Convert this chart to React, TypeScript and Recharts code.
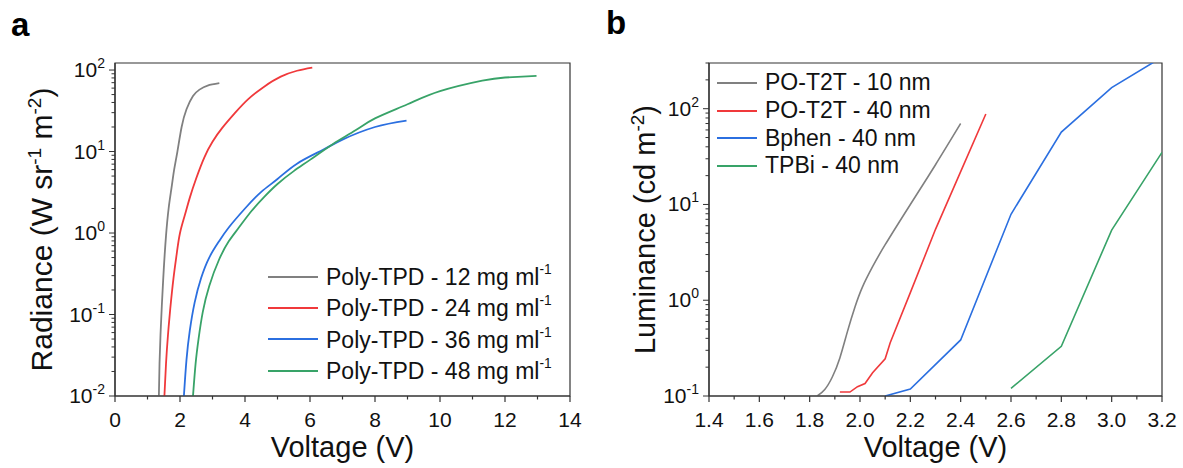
import React from 'react';
import { LineChart, Line, XAxis, YAxis, ReferenceArea, Label } from 'recharts';

const FONT = '"Liberation Sans", Arial, Helvetica, sans-serif';
const AXIS = '#333333';
const INK = '#111111';

// ---- panel a: radiance vs voltage ----
const radianceNames = ['Poly-TPD - 12 mg ml', 'Poly-TPD - 24 mg ml', 'Poly-TPD - 36 mg ml', 'Poly-TPD - 48 mg ml'];
const radianceColors = ['#808080', '#f0393b', '#2b6fe0', '#38a368'];

const tpd12Volt = [1.35, 1.37, 1.4, 1.44, 1.5, 1.57, 1.65, 1.74, 1.82, 1.92, 2.05, 2.2, 2.4, 2.6, 2.85, 3.21];
const tpd12Rad = [0.01, 0.025, 0.056, 0.126, 0.355, 0.93, 2.0, 3.6, 6.0, 10, 20, 33, 48, 57.5, 64.5, 69];

const tpd24Volt = [1.52, 1.57, 1.63, 1.7, 1.8, 1.9, 2.0, 2.15, 2.3, 2.5, 2.75, 3.0, 3.3, 3.7, 4.1, 4.6, 5.1, 5.6, 6.07];
const tpd24Rad = [0.01, 0.025, 0.056, 0.117, 0.28, 0.56, 1.0, 1.66, 2.7, 4.7, 8.5, 13.2, 19.5, 30, 44, 63, 83, 98, 107];

const tpd36Volt = [2.12, 2.2, 2.3, 2.45, 2.65, 2.9, 3.2, 3.5, 4.0, 4.5, 5.0, 5.6, 6.4, 7.0, 8.0, 8.97];
const tpd36Rad = [0.01, 0.028, 0.063, 0.14, 0.28, 0.5, 0.79, 1.17, 2.0, 3.2, 4.6, 7.1, 10.5, 14.0, 20, 24];

const tpd48Volt = [2.4, 2.48, 2.57, 2.7, 2.9, 3.2, 3.5, 3.8, 4.2, 4.6, 5.0, 5.5, 6.0, 6.7, 7.4, 8.0, 9.0, 10.0, 11.3, 12.0, 12.97];
const tpd48Rad = [0.01, 0.025, 0.05, 0.107, 0.224, 0.47, 0.79, 1.15, 1.86, 2.8, 4.0, 5.75, 7.9, 12.3, 18.2, 25.5, 38, 55, 74, 81, 85];

const voltageTicksA = [0, 2, 4, 6, 8, 10, 12, 14];
const radianceTicks = [0.01, 0.1, 1, 10, 100];

// ---- panel b: luminance vs voltage ----
const luminanceNames = ['PO-T2T - 10 nm', 'PO-T2T - 40 nm', 'Bphen - 40 nm', 'TPBi - 40 nm'];
const luminanceColors = ['#808080', '#f0393b', '#2b6fe0', '#38a368'];

const t2t10Volt = [1.83, 1.86, 1.89, 1.92, 1.95, 1.98, 2.01, 2.05, 2.1, 2.2, 2.3, 2.4];
const t2t10Lum = [0.1, 0.117, 0.158, 0.25, 0.47, 0.85, 1.38, 2.24, 3.8, 10, 26, 70];

const t2t40Volt = [1.92, 1.96, 1.99, 2.02, 2.05, 2.1, 2.12, 2.2, 2.3, 2.4, 2.5];
const t2t40Lum = [0.11, 0.11, 0.125, 0.135, 0.175, 0.245, 0.36, 1.2, 5.5, 22, 88];

const bphenVolt = [2.1, 2.2, 2.4, 2.6, 2.8, 3.0, 3.2];
const bphenLum = [0.1, 0.118, 0.385, 7.9, 57, 166, 345];

const tpbiVolt = [2.6, 2.8, 3.0, 3.2];
const tpbiLum = [0.12, 0.33, 5.4, 35];

const voltageTicksB = [1.4, 1.6, 1.8, 2.0, 2.2, 2.4, 2.6, 2.8, 3.0, 3.2];
const luminanceTicks = [0.1, 1, 10, 100];

const pairs = (xs: number[], ys: number[]) => xs.map((x, i) => ({ x, y: ys[i] }));

const radianceSeries = [
  pairs(tpd12Volt, tpd12Rad),
  pairs(tpd24Volt, tpd24Rad),
  pairs(tpd36Volt, tpd36Rad),
  pairs(tpd48Volt, tpd48Rad),
];
const luminanceSeries = [
  pairs(t2t10Volt, t2t10Lum),
  pairs(t2t40Volt, t2t40Lum),
  pairs(bphenVolt, bphenLum),
  pairs(tpbiVolt, tpbiLum),
];

// minor ticks: halfway between linear majors, 2..9 inside each log decade
const linearMinors = (majors: number[]) => {
  const out: number[] = [];
  for (let i = 0; i < majors.length - 1; i++) out.push(+((majors[i] + majors[i + 1]) / 2).toFixed(3));
  return out;
};
const logMinors = (lo: number, hi: number) => {
  const out: number[] = [];
  for (let d = lo; d < hi; d *= 10) {
    for (let k = 2; k <= 9; k++) {
      const v = +(d * k).toPrecision(3);
      if (v <= hi) out.push(v);
    }
  }
  return out;
};

const near = (list: number[], v: number) => list.some((m) => Math.abs(m - v) < 1e-6 * Math.max(1, Math.abs(m)));

function XTick(props: any) {
  const { x, y, payload, majors, decimals } = props;
  const major = near(majors, payload.value);
  return (
    <g>
      <line x1={x} x2={x} y1={y} y2={y + (major ? 6 : 3.5)} stroke={AXIS} strokeWidth={1.2} />
      {major && (
        <text x={x} y={y + 31} textAnchor="middle" fontSize={21} fontFamily={FONT} fill={INK}>
          {Number(payload.value).toFixed(decimals)}
        </text>
      )}
    </g>
  );
}

function YTick(props: any) {
  const { x, y, payload, majors } = props;
  const v = payload.value;
  const major = near(majors, v);
  const exp = Math.round(Math.log10(v));
  return (
    <g>
      <line x1={x - (major ? 6 : 3.5)} x2={x} y1={y} y2={y} stroke={AXIS} strokeWidth={1} />
      {major && (
        <text x={x - 10} y={y + 7} textAnchor="end" fontSize={21} fontFamily={FONT} fill={INK}>
          10
          <tspan dy={-9} fontSize={14}>{exp}</tspan>
        </text>
      )}
    </g>
  );
}

function XTitle(props: any) {
  const { viewBox } = props;
  return (
    <text x={viewBox.x + viewBox.width / 2} y={viewBox.y + 61} textAnchor="middle" fontSize={29} fontFamily={FONT} fill={INK}>
      Voltage (V)
    </text>
  );
}

function YTitle(props: any) {
  const { viewBox, baseX, main, unit1, exp1, unit2, exp2, size } = props;
  const cx = viewBox.x + baseX;
  const cy = viewBox.y + viewBox.height / 2;
  const sup = Math.round(size * 0.64);
  const lift = Math.round(size * 0.38);
  return (
    <text x={cx} y={cy} transform={`rotate(-90 ${cx} ${cy})`} textAnchor="middle" fontSize={size} fontFamily={FONT} fill={INK}>
      {main}
      {unit1}
      {exp1 && <tspan dy={-lift} fontSize={sup}>{exp1}</tspan>}
      {exp1 && <tspan dy={lift}>{' '}</tspan>}
      {unit2}
      <tspan dy={-lift} fontSize={sup}>{exp2}</tspan>
      <tspan dy={lift}>)</tspan>
    </text>
  );
}

function LegendBox(props: { names: string[]; colors: string[]; left: number; top: number; row: number; line: number; sup?: string }) {
  const { names, colors, left, top, row, line, sup } = props;
  return (
    <div style={{ position: 'absolute', left, top, fontFamily: FONT, fontSize: 23, color: INK }}>
      {names.map((n, i) => (
        <div key={n} style={{ display: 'flex', alignItems: 'center', height: row, whiteSpace: 'nowrap' }}>
          <svg width={line} height={4} style={{ marginRight: 8 }}>
            <line x1={0} x2={line} y1={2} y2={2} stroke={colors[i]} strokeWidth={2} />
          </svg>
          <span>
            {n}
            {sup && <span style={{ fontSize: '0.6em', verticalAlign: '0.8em' }}>{sup}</span>}
          </span>
        </div>
      ))}
    </div>
  );
}

export default function App() {
  const xMinorA = linearMinors(voltageTicksA);
  const yMinorA = logMinors(0.01, 100);
  const xMinorB = linearMinors(voltageTicksB);
  const yMinorB = logMinors(0.1, 300);

  return (
    <div style={{ position: 'absolute', left: 0, top: 0, width: 1183, height: 468, background: '#fff', fontFamily: FONT }}>
      <div style={{ position: 'absolute', left: 11, top: 6, fontSize: 33, fontWeight: 'bold' }}>a</div>
      <div style={{ position: 'absolute', left: 606, top: 4, fontSize: 33, fontWeight: 'bold' }}>b</div>

      <div style={{ position: 'absolute', left: 0, top: 0 }}>
        <LineChart width={600} height={468} margin={{ top: 63, right: 30, bottom: 0, left: 0 }}>
          <XAxis
            dataKey="x"
            type="number"
            domain={[0, 14]}
            allowDataOverflow
            ticks={[...voltageTicksA, ...xMinorA].sort((a, b) => a - b)}
            interval={0}
            height={72}
            tickSize={0}
            tickMargin={0}
            tickLine={false}
            axisLine={{ stroke: AXIS, strokeWidth: 1.2 }}
            tick={(p: any) => <XTick {...p} majors={voltageTicksA} decimals={0} />}
          >
            <Label content={(p: any) => <XTitle {...p} />} />
          </XAxis>
          <YAxis
            dataKey="y"
            scale="log"
            type="number"
            domain={[0.01, 122]}
            allowDataOverflow
            ticks={[...radianceTicks, ...yMinorA].sort((a, b) => a - b)}
            interval={0}
            width={115}
            tickSize={0}
            tickMargin={0}
            tickLine={false}
            axisLine={{ stroke: AXIS, strokeWidth: 1.2 }}
            tick={(p: any) => <YTick {...p} majors={radianceTicks} />}
          >
            <Label
              content={(p: any) => (
                <YTitle {...p} size={30} baseX={52} main="Radiance (W " unit1="sr" exp1="-1" unit2="m" exp2="-2" />
              )}
            />
          </YAxis>
          <ReferenceArea x1={0} x2={14} y1={0.01} y2={122} fill="none" stroke={AXIS} strokeWidth={1.2} ifOverflow="visible" />
          {radianceSeries.map((d, i) => (
            <Line
              key={radianceNames[i]}
              data={d}
              dataKey="y"
              type="natural"
              stroke={radianceColors[i]}
              strokeWidth={1.8}
              dot={false}
              isAnimationActive={false}
            />
          ))}
        </LineChart>
        <LegendBox names={radianceNames} colors={radianceColors} left={268} top={261} row={31.3} line={50} sup="-1" />
      </div>

      <div style={{ position: 'absolute', left: 600, top: 0 }}>
        <LineChart width={583} height={468} margin={{ top: 63, right: 21, bottom: 0, left: 0 }}>
          <XAxis
            dataKey="x"
            type="number"
            domain={[1.4, 3.2]}
            allowDataOverflow
            ticks={[...voltageTicksB, ...xMinorB].sort((a, b) => a - b)}
            interval={0}
            height={72}
            tickSize={0}
            tickMargin={0}
            tickLine={false}
            axisLine={{ stroke: AXIS, strokeWidth: 1.2 }}
            tick={(p: any) => <XTick {...p} majors={voltageTicksB} decimals={1} />}
          >
            <Label content={(p: any) => <XTitle {...p} />} />
          </XAxis>
          <YAxis
            dataKey="y"
            scale="log"
            type="number"
            domain={[0.1, 300]}
            allowDataOverflow
            ticks={[...luminanceTicks, ...yMinorB].sort((a, b) => a - b)}
            interval={0}
            width={109}
            tickSize={0}
            tickMargin={0}
            tickLine={false}
            axisLine={{ stroke: AXIS, strokeWidth: 1.2 }}
            tick={(p: any) => <YTick {...p} majors={luminanceTicks} />}
          >
            <Label
              content={(p: any) => (
                <YTitle {...p} size={29} baseX={55} main="Luminance (cd " unit1="" exp1="" unit2="m" exp2="-2" />
              )}
            />
          </YAxis>
          <ReferenceArea x1={1.4} x2={3.2} y1={0.1} y2={300} fill="none" stroke={AXIS} strokeWidth={1.2} ifOverflow="visible" />
          {luminanceSeries.map((d, i) => (
            <Line
              key={luminanceNames[i]}
              data={d}
              dataKey="y"
              type={i === 0 ? 'natural' : 'linear'}
              stroke={luminanceColors[i]}
              strokeWidth={1.6}
              dot={false}
              isAnimationActive={false}
            />
          ))}
        </LineChart>
        <LegendBox names={luminanceNames} colors={luminanceColors} left={117} top={69} row={27.7} line={40} />
      </div>
    </div>
  );
}
